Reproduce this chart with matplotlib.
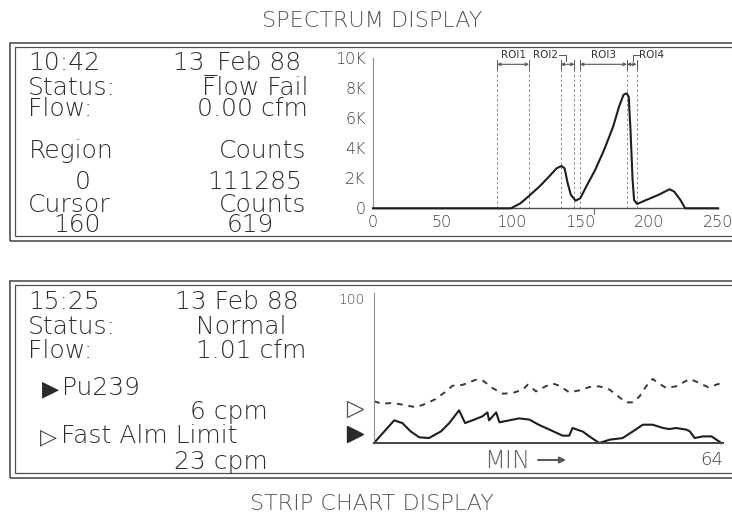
import matplotlib
matplotlib.use("Agg")
import matplotlib.pyplot as plt
from matplotlib.patches import Rectangle
from matplotlib.ticker import FuncFormatter
from matplotlib.transforms import blended_transform_factory

W, H = 732, 520
FONT = ["DejaVu Sans"]

# ---------------- spectrum data ----------------
spec_channel = [0, 100, 106.8, 112.5, 120.5, 127.4, 133.1, 136.5, 138.8, 141.1,
                143.4, 146.8, 150.2, 154.5, 161, 167.5, 174, 178.3, 181.5, 183.8,
                185.3, 186.6, 188.1, 189.2, 191.4, 197.9, 206.8, 214.9, 218.3,
                222.8, 226.2, 250]
spec_counts = [0, 0, 330, 780, 1440, 2100, 2670, 2820, 2670, 1670,
               890, 510, 670, 1440, 2560, 3900, 5440, 6780, 7560, 7670,
               7440, 5200, 1900, 550, 290, 550, 890, 1270, 1110,
               550, 0, 0]
roi_names = ["ROI1", "ROI2", "ROI3", "ROI4"]
roi_start = [90, 136, 150, 184]
roi_end = [113, 146, 184, 191]
spec_xticks = [0, 50, 100, 150, 200, 250]
spec_yticks = [0, 2000, 4000, 6000, 8000, 10000]
cursor_channel = 160
cursor_counts = 619
region_number = 0
region_counts = 111285

# ---------------- strip chart data ----------------
pu_minutes = [0, 3.7, 5.2, 6.7, 8.3, 10.1, 12.3, 13.8, 15.6, 16.7, 18.4, 19.9,
              20.8, 21.1, 22.4, 23.0, 24.8, 26.6, 28.5, 30.3, 32.2, 34.6, 35.8,
              36.4, 38.3, 39.5, 41.3, 43.2, 45.6, 47.5, 49.3, 51.1, 53.0, 54.2,
              55.4, 57.3, 57.9, 58.8, 60.3, 61.9, 62.8, 63.7]
pu_level = [0, 15.1, 13.3, 7.8, 3.8, 3.3, 7.8, 13.3, 21.8, 13.3, 15.6, 17.8,
            20.4, 15.1, 20.4, 13.8, 15.1, 16.4, 15.6, 12.0, 8.9, 4.9, 4.9,
            10.0, 7.6, 4.4, 0, 2.2, 3.3, 7.8, 12.2, 12.2, 10.0, 9.3,
            10.0, 8.9, 7.8, 3.3, 4.4, 4.4, 2.2, 0]
alarm_minutes = [0, 1.5, 3.4, 5.2, 7.7, 9.5, 11.3, 13.2, 14.4, 16.2, 18.7, 19.9,
                 21.7, 23.6, 25.4, 27.3, 28.2, 28.8, 29.7, 31.5, 32.8, 34.0,
                 35.8, 37.7, 39.5, 41.3, 43.2, 44.4, 46.2, 47.5, 48.7, 49.9,
                 51.1, 52.1, 53.6, 55.4, 57.9, 59.7, 61.3, 62.8, 64]
alarm_level = [27.8, 26.2, 26.7, 25.6, 23.8, 26.2, 29.3, 34.4, 38.2, 38.7, 42.2,
               41.8, 36.7, 32.9, 33.3, 35.6, 38.9, 37.3, 34.4, 37.8, 39.6, 38.2,
               33.8, 35.1, 37.3, 37.8, 35.6, 32.2, 27.1, 27.1, 31.1, 37.8,
               42.7, 40.0, 36.7, 37.8, 42.7, 40.0, 37.1, 38.9, 40.4]
pu_cpm = 6
alarm_cpm = 23
strip_span = 64

TEXT = "#2e2e2e"


def fx(x):
    return x / W


def fy(y):
    return 1 - y / H


fig = plt.figure(figsize=(W / 100, H / 100), dpi=100)
fig.patch.set_facecolor("white")


def label(s, x, y, size=18, color=TEXT, ha="center", weight=200):
    fig.text(fx(x), fy(y), s, fontsize=size, family=FONT, color=color,
             ha=ha, va="baseline", fontweight=weight)


def double_box(x0, y0, x1, y1, gap):
    for (a0, b0, a1, b1), lw in (((x0, y0, x1, y1), 1.2),
                                 ((x0 + gap, y0 + gap - 1, x1, y1 - gap), 0.9)):
        fig.add_artist(Rectangle((fx(a0), fy(b1)), (a1 - a0) / W, (b1 - b0) / H,
                                 transform=fig.transFigure, fill=False,
                                 edgecolor="#505050", linewidth=lw))


# ---------------- frames and captions ----------------
double_box(10, 43, 745, 241, 5)
double_box(10, 281, 745, 478, 5)
label("SPECTRUM DISPLAY", 372, 27, size=16, color="#555555")
label("STRIP CHART DISPLAY", 372, 510, size=16, color="#555555")

# ---------------- spectrum panel text ----------------
label("10:42", 28, 70, ha="left")
label("13_Feb 88", 237, 70)
label("Status:", 28, 95, ha="left")
label("Flow Fail", 255, 95)
label("Flow:", 28, 116, ha="left")
label("0.00 cfm", 252, 116)
label("Region", 29, 158, ha="left")
label("Counts", 263, 158)
label(str(region_number), 83, 189)
label(str(region_counts), 255, 189)
label("Cursor", 28, 212, ha="left")
label("Counts", 263, 212)
label(str(cursor_channel), 77, 232)
label(str(cursor_counts), 250, 232)

# ---------------- spectrum plot ----------------
ax = fig.add_axes([fx(373), fy(208.3), fx(718) - fx(373), 150 / H])
ax.set_facecolor("none")
ax.plot(spec_channel, spec_counts, color="#1e1e1e", lw=1.5, solid_joinstyle="round",
        clip_on=False, zorder=3)
ax.set_xlim(0, 250)
ax.set_ylim(0, 10000)
ax.set_xticks(spec_xticks)
ax.set_yticks(spec_yticks)
ax.yaxis.set_major_formatter(FuncFormatter(lambda v, p: "0" if v == 0 else f"{int(v / 1000)}K"))
ax.tick_params(length=0, labelsize=11.5, labelcolor="#444444")
ax.tick_params(axis="x", pad=5)
ax.tick_params(axis="y", pad=5)
for t in ax.get_xticklabels() + ax.get_yticklabels():
    t.set_family(FONT)
    t.set_fontweight(200)
for s in ("top", "right"):
    ax.spines[s].set_visible(False)
ax.spines["left"].set_color("#909090")
ax.spines["left"].set_linewidth(0.8)
ax.spines["bottom"].set_color("#505050")
ax.spines["bottom"].set_linewidth(1.0)

bracket_y = 9600
name_y = 10250
bounds = sorted(set(roi_start + roi_end))
for b in bounds:
    ax.plot([b, b], [0, bracket_y], color="#8a8a8a", lw=0.7,
            dashes=(2.5, 2.5), clip_on=False, zorder=1)
for name, a, b in zip(roi_names, roi_start, roi_end):
    ax.annotate("", xy=(a, bracket_y), xytext=(b, bracket_y),
                arrowprops=dict(arrowstyle="<->", color="#555555", lw=0.8,
                                mutation_scale=5, shrinkA=0, shrinkB=0),
                annotation_clip=False)
    for e in (a, b):
        ax.plot([e, e], [bracket_y - 300, bracket_y + 300], color="#555555",
                lw=0.7, clip_on=False)
roi_font = dict(fontsize=7.5, family=FONT, color="#333333", va="center")
ax.text((roi_start[0] + roi_end[0]) / 2, name_y, roi_names[0], ha="center", **roi_font)
ax.text(roi_start[1] - 2, name_y, roi_names[1], ha="right", **roi_font)
ax.plot([roi_start[1] - 1.5, roi_start[1] + 3.5, roi_start[1] + 3.5],
        [name_y, name_y, bracket_y + 250], color="#555555", lw=0.7, clip_on=False)
ax.text((roi_start[2] + roi_end[2]) / 2, name_y, roi_names[2], ha="center", **roi_font)
ax.plot([roi_end[3] - 2.5, roi_end[3] - 2.5, roi_end[3] + 1.5],
        [bracket_y + 250, name_y, name_y], color="#555555", lw=0.7, clip_on=False)
ax.text(roi_end[3] + 1.5, name_y, roi_names[3], ha="left", **roi_font)
# cursor marker under the baseline
ax.plot([cursor_channel, cursor_channel], [-350, 0], color="#707070", lw=0.8,
        clip_on=False)

# ---------------- strip chart panel text ----------------
label("15:25", 28, 309, ha="left")
label("13 Feb 88", 237, 309)
label("Status:", 28, 334, ha="left")
label("Normal", 241, 334)
label("Flow:", 28, 358, ha="left")
label("1.01 cfm", 251, 358)
label("\u25B6", 50, 395, size=16, color="#2a2a2a", weight="normal")
label("Pu239", 62, 395, ha="left")
label(f"{pu_cpm} cpm", 229, 419)
label("\u25B7", 49, 443, size=16, color="#4a4a4a", weight="normal")
label("Fast Alm Limit", 61, 443, ha="left")
label(f"{alarm_cpm} cpm", 221, 469)

# ---------------- strip chart plot ----------------
sx = fig.add_axes([fx(374), fy(443), fx(723) - fx(374), 150 / H])
sx.set_facecolor("none")
sx.plot(alarm_minutes, alarm_level, color="#3a3a3a", lw=1.4, dashes=(3, 3),
        clip_on=False)
sx.plot(pu_minutes, pu_level, color="#1e1e1e", lw=1.5, clip_on=False)
sx.set_xlim(0, strip_span)
sx.set_ylim(0, 100)
sx.set_xticks([strip_span])
sx.set_xticklabels([str(strip_span)], ha="right")
sx.set_yticks([100])
sx.set_yticklabels(["100"], va="top")
sx.tick_params(length=0, labelcolor="#444444")
sx.tick_params(axis="x", labelsize=13, pad=6)
sx.tick_params(axis="y", labelsize=10, pad=7)
for t in sx.get_xticklabels() + sx.get_yticklabels():
    t.set_family(FONT)
    t.set_fontweight(200)
for s in ("top", "right"):
    sx.spines[s].set_visible(False)
sx.spines["left"].set_color("#909090")
sx.spines["left"].set_linewidth(0.8)
sx.spines["bottom"].set_color("#454545")
sx.spines["bottom"].set_linewidth(1.4)

# level markers at the left of the strip chart
blend = blended_transform_factory(sx.transAxes, sx.transData)
sx.plot([-0.055], [alarm_cpm], marker=">", markersize=11, markerfacecolor="white",
        markeredgecolor="#555555", markeredgewidth=0.9, transform=blend, clip_on=False)
sx.plot([-0.055], [pu_cpm], marker=">", markersize=11, markerfacecolor="#2a2a2a",
        markeredgecolor="#2a2a2a", transform=blend, clip_on=False)

label("MIN", 507, 468, size=17.5, color="#666666")
sx.annotate("", xy=(fx(566), fy(460)), xytext=(fx(538), fy(460)),
            xycoords="figure fraction", textcoords="figure fraction",
            arrowprops=dict(arrowstyle="-|>", color="#555555", lw=1.4,
                            mutation_scale=9, shrinkA=0, shrinkB=0))

fig.savefig("out.png", dpi=100, facecolor="white")
